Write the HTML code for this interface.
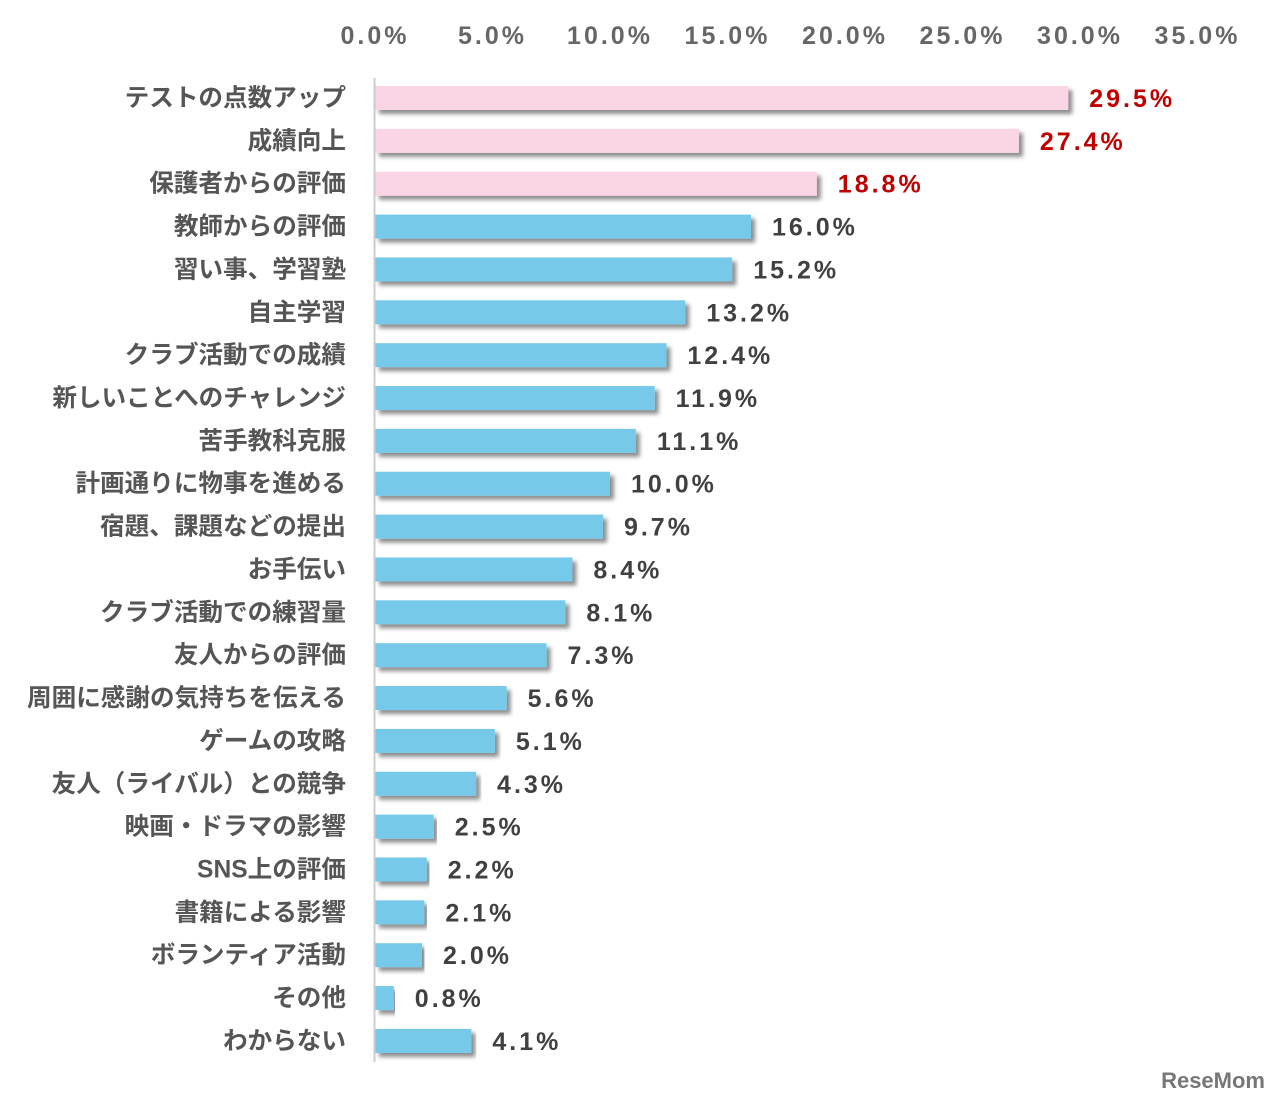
<!DOCTYPE html>
<html><head><meta charset="utf-8"><style>
body{margin:0;background:#fff;width:1280px;height:1102px;overflow:hidden}
svg{display:block}
text{font-family:"Liberation Sans","Noto Sans CJK JP",sans-serif;font-weight:bold}
</style></head><body>
<svg id="chart" width="1280" height="1102" viewBox="0 0 1280 1102">
<defs><filter id="sh" x="-5%" y="-50%" width="110%" height="200%"><feGaussianBlur in="SourceAlpha" stdDeviation="2"/><feOffset dx="4" dy="4"/><feComponentTransfer><feFuncA type="linear" slope="0.45"/></feComponentTransfer><feMerge><feMergeNode/><feMergeNode in="SourceGraphic"/></feMerge></filter></defs>
<g id="ticks"></g><g id="bars"></g>
<line x1="374.5" y1="78" x2="374.5" y2="1062" stroke="#cccccc" stroke-width="2"/>
<text x="1265" y="1088" text-anchor="end" font-size="22" fill="#777">ReseMom</text>
</svg>
<script>
const categories=["テストの点数アップ","成績向上","保護者からの評価","教師からの評価","習い事、学習塾","自主学習","クラブ活動での成績","新しいことへのチャレンジ","苦手教科克服","計画通りに物事を進める","宿題、課題などの提出","お手伝い","クラブ活動での練習量","友人からの評価","周囲に感謝の気持ちを伝える","ゲームの攻略","友人（ライバル）との競争","映画・ドラマの影響","SNS上の評価","書籍による影響","ボランティア活動","その他","わからない"];
const values=[29.5,27.4,18.8,16.0,15.2,13.2,12.4,11.9,11.1,10.0,9.7,8.4,8.1,7.3,5.6,5.1,4.3,2.5,2.2,2.1,2.0,0.8,4.1];
const highlighted=[true,true,true,false,false,false,false,false,false,false,false,false,false,false,false,false,false,false,false,false,false,false,false];
const tickValues=[0,5,10,15,20,25,30,35];
const NS="http://www.w3.org/2000/svg";
const x=v=>375+v*23.5;
const y=i=>98+i*42.86;
const tg=document.getElementById('ticks'),bg=document.getElementById('bars');
function mk(tag,attrs,txt){const e=document.createElementNS(NS,tag);for(const k in attrs)e.setAttribute(k,attrs[k]);if(txt!=null)e.textContent=txt;return e;}
tickValues.forEach(t=>{const e=mk('text',{x:x(t),y:44,'text-anchor':'middle','font-size':'25','letter-spacing':'3',fill:'#666'},t.toFixed(1)+'%');


tg.appendChild(e);});
categories.forEach((c,i)=>{
const l=mk('text',{x:346,y:y(i)+8,'text-anchor':'end','font-size':'24.6',fill:'#555'},c);


bg.appendChild(l);
const r=mk('rect',{x:375,y:y(i)-12,width:x(values[i])-375,height:24,fill:highlighted[i]?'#f9d5e5':'#77c9ea',filter:'url(#sh)'});


bg.appendChild(r);
const v=mk('text',{x:x(values[i])+21,y:y(i)+9,'font-size':'25','letter-spacing':'3',fill:highlighted[i]?'#c00000':'#404040'},values[i].toFixed(1)+'%');


bg.appendChild(v);
});
</script>
</body></html>
